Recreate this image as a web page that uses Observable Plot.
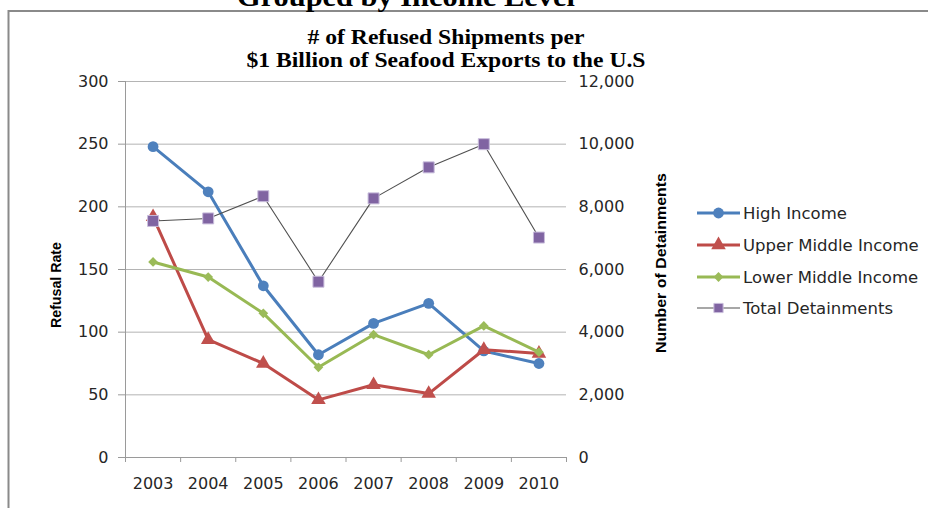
<!DOCTYPE html>
<html>
<head>
<meta charset="utf-8">
<script src="https://cdn.jsdelivr.net/npm/d3@7"></script>
<script src="https://cdn.jsdelivr.net/npm/@observablehq/plot@0.6"></script>
<style>
  html, body { margin: 0; padding: 0; background: #fff; }
  #chart { width: 928px; height: 508px; overflow: hidden; }
</style>
</head>
<body>
<div id="chart"></div>
<script>
// ---- data ----
const years = [2003, 2004, 2005, 2006, 2007, 2008, 2009, 2010];
const highIncome = [248, 212, 137, 82, 107, 123, 85, 75];
const upperMiddleIncome = [192, 94, 75, 46, 58, 51, 86, 83];
const lowerMiddleIncome = [156, 144, 115, 72, 98, 82, 105, 84];
const totalDetainments = [7550, 7630, 8340, 5610, 8270, 9260, 10000, 7020];
const leftTicks = [0, 50, 100, 150, 200, 250, 300];
const seriesNames = ["High Income", "Upper Middle Income", "Lower Middle Income", "Total Detainments"];
const ratio = 40; // right axis (0–12,000) over left axis (0–300)

const seriesStyle = {
  "High Income":         {line: "#4A7EBB", fill: "#4F81BD", w: 3,   symbol: "circle",   r: 5.4, stroke: "none"},
  "Upper Middle Income": {line: "#BE4B48", fill: "#C0504D", w: 3,   symbol: "triangle", r: 5.4, stroke: "none"},
  "Lower Middle Income": {line: "#98B954", fill: "#9BBB59", w: 3,   symbol: "diamond2", r: 4.4, stroke: "none"},
  "Total Detainments":   {line: "#505050", fill: "#8064A2", w: 1.1, symbol: "square",   r: 6.2, stroke: "#c9bedc"}
};

const rows = [];
const sources = [highIncome, upperMiddleIncome, lowerMiddleIncome, totalDetainments];
seriesNames.forEach((name, i) => {
  years.forEach((yr, j) => {
    const v = sources[i][j];
    rows.push({series: name, year: yr, value: v, y: name === "Total Detainments" ? v / ratio : v});
  });
});

const boundaries = d3.range(years.length + 1).map(i => years[0] - 0.5 + i);

const seriesMarks = seriesNames.flatMap(name => {
  const s = seriesStyle[name];
  const d = rows.filter(r => r.series === name);
  return [
    Plot.line(d, {x: "year", y: "y", stroke: s.line, strokeWidth: s.w}),
    Plot.dot(d, {x: "year", y: "y", symbol: () => s.symbol, r: s.r, fill: s.fill, stroke: s.stroke, strokeWidth: 1})
  ];
});

const plot = Plot.plot({
  width: 928,
  height: 508,
  marginLeft: 125,
  marginRight: 362,
  marginTop: 81,
  marginBottom: 51,
  x: {domain: [boundaries[0], boundaries[boundaries.length - 1]]},
  y: {domain: [0, 300]},
  symbol: {type: "identity"},
  style: {fontFamily: "DejaVu Sans", fontSize: "16px", color: "#262626", background: "#fff"},
  marks: [
    Plot.gridY(leftTicks.filter(t => t > 0), {stroke: "#b4b4b4", strokeOpacity: 1, strokeWidth: 1}),
    Plot.ruleY([0], {stroke: "#9a9a9a"}),
    Plot.ruleX([boundaries[0]], {stroke: "#9a9a9a"}),
    Plot.axisY(leftTicks, {anchor: "left", tickSize: 7, tickPadding: 10, stroke: "#9a9a9a", label: null, fontSize: 16, fill: "#262626"}),
    Plot.axisY(leftTicks, {anchor: "right", tickSize: 0, tickPadding: 12, label: null, fontSize: 16, fill: "#262626",
      tickFormat: d => d3.format(",")(d * ratio)}),
    Plot.axisX(boundaries, {anchor: "bottom", tickSize: 5, tickPadding: 0, stroke: "#9a9a9a", tickFormat: () => "", label: null}),
    Plot.axisX(years, {anchor: "bottom", tickSize: 0, tickPadding: 20, label: null, fontSize: 16, fill: "#262626",
      tickFormat: d => String(d)}),
    ...seriesMarks
  ]
});

document.getElementById("chart").appendChild(plot);

// ---- decorations: border, titles, axis titles, legend ----
const svg = d3.select(plot);
const g = svg.append("g").attr("text-anchor", "start");

g.append("path")
  .attr("d", "M8.5,508 L8.5,11 L928,11")
  .attr("fill", "none").attr("stroke", "#8a8a8a").attr("stroke-width", 2);

g.append("text").text("Grouped by Income Level")
  .attr("x", 406).attr("y", 6)
  .attr("text-anchor", "middle")
  .attr("font-family", "Liberation Serif").attr("font-weight", "bold").attr("font-size", 27)
  .attr("textLength", 338).attr("lengthAdjust", "spacingAndGlyphs")
  .attr("fill", "#000");

g.append("text").text("# of Refused Shipments per")
  .attr("x", 446).attr("y", 44)
  .attr("text-anchor", "middle")
  .attr("font-family", "Liberation Serif").attr("font-weight", "bold").attr("font-size", 20)
  .attr("textLength", 277).attr("lengthAdjust", "spacingAndGlyphs")
  .attr("fill", "#000");

g.append("text").text("$1 Billion of Seafood Exports to the U.S")
  .attr("x", 446).attr("y", 67)
  .attr("text-anchor", "middle")
  .attr("font-family", "Liberation Serif").attr("font-weight", "bold").attr("font-size", 20)
  .attr("textLength", 399).attr("lengthAdjust", "spacingAndGlyphs")
  .attr("fill", "#000");

g.append("text").text("Refusal Rate")
  .attr("transform", "translate(61,285) rotate(-90)")
  .attr("text-anchor", "middle")
  .attr("font-family", "Liberation Sans").attr("font-weight", "bold").attr("font-size", 15)
  .attr("textLength", 86).attr("lengthAdjust", "spacingAndGlyphs")
  .attr("fill", "#000");

g.append("text").text("Number of Detainments")
  .attr("transform", "translate(666,263) rotate(-90)")
  .attr("text-anchor", "middle")
  .attr("font-family", "Liberation Sans").attr("font-weight", "bold").attr("font-size", 15)
  .attr("textLength", 180).attr("lengthAdjust", "spacingAndGlyphs")
  .attr("fill", "#000");

const symbolMap = {circle: d3.symbolCircle, triangle: d3.symbolTriangle, diamond2: d3.symbolDiamond2, square: d3.symbolSquare};
const legendY = [213, 245, 277, 308];
seriesNames.forEach((name, i) => {
  const s = seriesStyle[name];
  const y = legendY[i];
  const lg = g.append("g");
  lg.append("line").attr("x1", 697).attr("x2", 740).attr("y1", y).attr("y2", y)
    .attr("stroke", s.line).attr("stroke-width", s.w);
  const sz = name === "Total Detainments" ? Math.PI * 5.2 * 5.2 : Math.PI * s.r * s.r;
  lg.append("path")
    .attr("d", d3.symbol(symbolMap[s.symbol], sz)())
    .attr("transform", `translate(718.5,${y})`)
    .attr("fill", s.fill).attr("stroke", s.stroke);
  lg.append("text").text(name)
    .attr("x", 743).attr("y", y).attr("dy", "0.35em")
    .attr("text-anchor", "start")
    .attr("font-family", "DejaVu Sans").attr("font-size", 16.5)
    .attr("fill", "#262626");
});
</script>
</body>
</html>
